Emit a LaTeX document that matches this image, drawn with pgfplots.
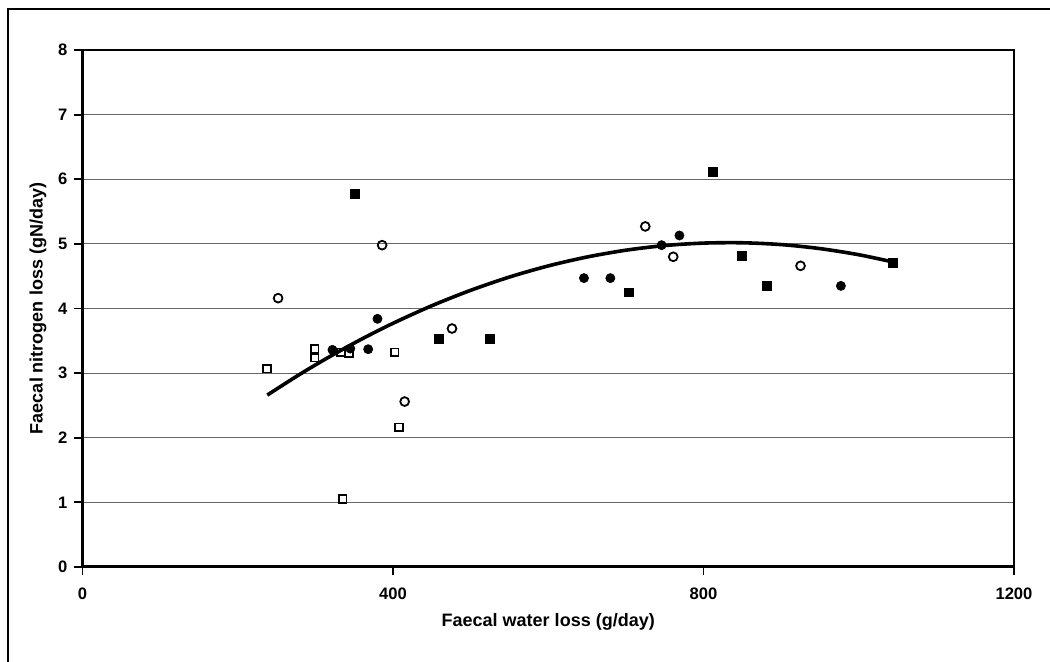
\documentclass[border=0pt]{standalone}
\usepackage{fontspec}
\setmainfont{Liberation Sans}
\usepackage{pgfplots}
\pgfplotsset{compat=1.18}
\begin{document}
\begin{tikzpicture}
\useasboundingbox (-41.25pt,-47.5pt) rectangle (483.75pt,283.5pt);
\draw[line width=0.8pt] (-37.25pt,-70pt) -- (-37.25pt,279pt) -- (520pt,279pt);
\begin{axis}[
  at={(0pt,0pt)}, anchor=south west,
  scale only axis, width=465.75pt, height=258.5pt,
  xmin=0, xmax=1200, ymin=0, ymax=8,
  xtick={0,400,800,1200}, ytick={0,1,...,8},
  xtick pos=left, ytick pos=left,
  tick align=outside, major tick length=4pt,
  tick style={black, line width=0.9pt},
  axis line style={black, line width=0.9pt},
  ymajorgrids, grid style={black!60, line width=0.55pt},
  /pgf/number format/assume math mode=true,
  /pgf/number format/1000 sep={},
  every tick label/.append style={font=\bfseries\fontsize{8.3}{9}\selectfont},
  xticklabel style={yshift=-3pt},
  xlabel={Faecal water loss (g/day)},
  ylabel={Faecal nitrogen loss (gN/day)},
  label style={font=\bfseries\fontsize{9}{10}\selectfont},
  xlabel style={at={(axis description cs:0.5,-0.106)}, anchor=center},
  ylabel style={at={(axis description cs:-0.0478,0.5)}, anchor=center},
  clip=false,
]
\draw[line width=1.5pt, black] (rel axis cs:0,1) -- (rel axis cs:0,0) -- (rel axis cs:1,0);
% fitted curve
\addplot[black, line width=1.8pt, smooth, no marks] coordinates {
(238,2.660) (280,2.982) (320,3.266) (360,3.529) (400,3.771) (450,4.043)
(500,4.281) (550,4.487) (600,4.659) (650,4.797) (700,4.902) (750,4.974)
(800,5.012) (850,5.017) (900,4.989) (950,4.927) (1000,4.832) (1044,4.720)};
% filled squares
\addplot[only marks, mark=square*, mark size=2.2pt, mark options={fill=black, draw=black, line width=0.3pt}] coordinates {
(351,5.78) (459,3.53) (525,3.53) (704,4.25) (812,6.12) (849,4.82) (882,4.35) (1044,4.71)};
% open squares
\addplot[only marks, mark=square, mark size=1.95pt, mark options={fill=white, draw=black, line width=0.9pt}] coordinates {
(238,3.07) (299,3.38) (299,3.24) (333,3.32) (343,3.31) (402,3.32) (408,2.16) (335,1.05)};
% filled circles
\addplot[only marks, mark=*, mark size=2.3pt, mark options={fill=black, draw=black, line width=0.3pt}] coordinates {
(322,3.36) (345,3.38) (368,3.37) (380,3.84) (646,4.47) (680,4.47) (746,4.98) (769,5.13) (977,4.35)};
% open circles
\addplot[only marks, mark=o, mark size=2.2pt, mark options={fill=white, draw=black, line width=0.9pt}] coordinates {
(252,4.16) (386,4.98) (415,2.56) (476,3.69) (725,5.27) (761,4.80) (925,4.66)};
\end{axis}
\end{tikzpicture}
\end{document}
